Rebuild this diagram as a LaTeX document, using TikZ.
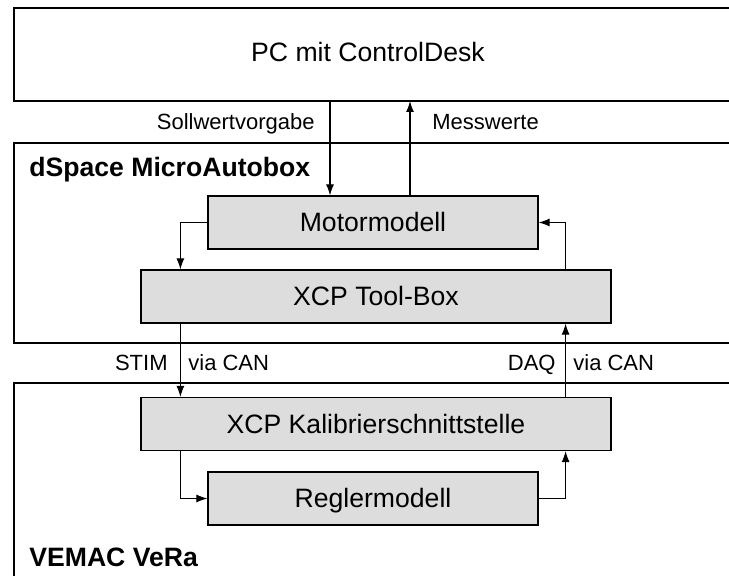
\documentclass[tikz,border=0pt]{standalone}
\usepackage{fontspec}
\setmainfont{Liberation Sans}
\usetikzlibrary{arrows.meta}
\definecolor{boxgray}{RGB}{221,221,221}
\begin{document}
\begin{tikzpicture}[x=0.5pt,y=-0.5pt,
  block/.style={draw,fill=boxgray,line width=0.6pt,minimum height=26.5pt,inner sep=0pt,
    text height=9.5pt,text depth=0pt,font=\fontsize{13.3}{15}\selectfont},
  lbl/.style={inner sep=0pt,font=\fontsize{11}{13}\selectfont},
  title/.style={inner sep=0pt,anchor=base west,font=\fontsize{13.3}{15}\selectfont\bfseries},
  sig/.style={-{Latex[length=5.5pt,width=4pt]},line width=0.55pt}]
\useasboundingbox (0,0) rectangle (729,576);
\clip (0,0) rectangle (729,576);
% frames, open to the right and bottom
\draw[line width=0.6pt] (14,8) rectangle (760,101);
\draw[line width=0.6pt] (14,143) rectangle (760,343);
\draw[line width=0.6pt] (14,383) rectangle (760,600);
\node[inner sep=0pt,text height=9.5pt,text depth=0pt,font=\fontsize{13.3}{15}\selectfont] (pc) at (368,52) {PC mit ControlDesk};
\node[title] (dspace) at (29,176.5) {dSpace MicroAutobox};
\node[title] (vemac) at (29,566.5) {VEMAC VeRa};
% blocks
\node[block,minimum width=165pt] (motor) at (373,222.5) {Motormodell};
\node[block,minimum width=235pt] (toolbox) at (376,296.5) {XCP Tool-Box};
\node[block,minimum width=235pt] (xcp) at (376,424) {XCP Kalibrierschnittstelle};
\node[block,minimum width=165pt] (regler) at (373,498.5) {Reglermodell};
% signals
\coordinate (soll) at (330,101);
\coordinate (mess) at (410,101);
\draw[sig] (soll) -- (soll |- motor.north);
\draw[sig] (mess |- motor.north) -- (mess);
\node[lbl,anchor=base east] (sollw) at (315,130) {Sollwertvorgabe};
\node[lbl,anchor=base west] (messw) at (432,130) {Messwerte};
\draw[sig] (motor.west) -| ([xshift=20pt]toolbox.north west);
\draw[sig] ([xshift=-23pt]toolbox.north east) |- (motor.east);
\draw[sig] ([xshift=20pt]toolbox.south west) -- ([xshift=20pt]xcp.north west);
\draw[sig] ([xshift=-23pt]xcp.north east) -- ([xshift=-23pt]toolbox.south east);
\node[lbl,anchor=base east] (stim) at (168,371) {STIM};
\node[lbl,anchor=base west] (can1) at (188,371) {via CAN};
\node[lbl,anchor=base east] (daq) at (556,371) {DAQ};
\node[lbl,anchor=base west] (can2) at (573,371) {via CAN};
\draw[sig] ([xshift=20pt]xcp.south west) |- (regler.west);
\draw[sig] (regler.east) -| ([xshift=-23pt]xcp.south east);
\end{tikzpicture}
\end{document}
